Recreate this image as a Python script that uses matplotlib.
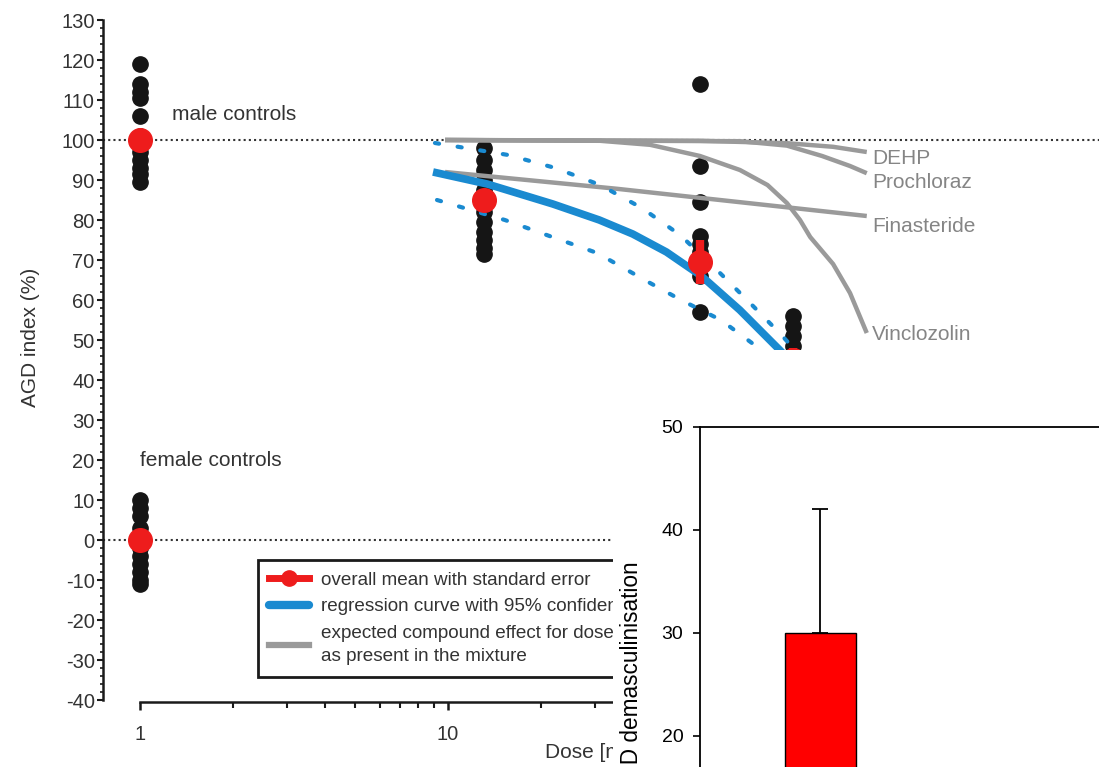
import matplotlib
matplotlib.use("Agg")
import matplotlib.pyplot as plt
from matplotlib.lines import Line2D
from matplotlib.patches import Rectangle
from matplotlib.ticker import MultipleLocator, FixedLocator, NullFormatter

plt.rcParams['font.family'] = ['Liberation Sans', 'DejaVu Sans']
plt.rcParams['axes.unicode_minus'] = False

# individual AGD index values (% of male control level)
control_dose = 1
male_controls = [119, 114, 112, 110.5, 106, 101, 97, 95, 93, 91.5, 89.5]
female_controls = [10, 8, 6, 3, 1, -2, -4, -6, -8, -10, -11]
mix_doses = [13.1, 65.9, 131.8]
mix_values = [
    [98, 95, 92.5, 90, 87.5, 85, 82, 79.5, 77, 75, 73, 71.5],
    [114, 93.5, 84.5, 76, 74, 72, 66, 57],
    [56, 53.5, 51, 48.5, 45, 42, 39, 36],
]

# group means with standard error
mean_doses = [1, 1, 13.1, 65.9, 131.8]
mean_values = [100, 0, 85, 69.5, 45]
mean_sem = [1.5, 1.5, 2.5, 5.5, 3]

# regression curve and 95% confidence belt
reg_dose = [8.94, 13.4, 21.9, 31.0, 39.8, 51.2, 66.5, 88.6, 119.4, 161]
reg_fit = [92, 89, 84, 80, 76.5, 72, 66, 57.5, 47.5, 37]
upper_dose = [9.07, 15.7, 22.3, 31.2, 42.6, 56.7, 74.7, 95.7, 121, 155]
upper_ci = [99.25, 96.25, 93, 88.75, 83, 76.25, 67.5, 59.25, 51.25, 42]
lower_dose = [9.21, 15.3, 21.8, 30.5, 45.3, 57.1, 76.9, 101, 129]
lower_ci = [85, 80, 75.75, 71.75, 64.25, 60, 55, 48.25, 40]

# expected effect of each compound at the dose present in the mixture
compounds = ['DEHP', 'Prochloraz', 'Finasteride', 'Vinclozolin']
compound_dose = {
    'DEHP': [9.78, 65.8, 126, 178, 229],
    'Prochloraz': [9.78, 88.7, 126, 164, 202, 229],
    'Finasteride': [9.78, 35.4, 229],
    'Vinclozolin': [9.78, 31.2, 45.3, 65.8, 88.7, 109, 126, 139, 150, 178, 202, 229],
}
compound_effect = {
    'DEHP': [100, 99.8, 99.2, 98.3, 97],
    'Prochloraz': [100, 99.7, 98.6, 96, 93.5, 91.7],
    'Finasteride': [92, 87.8, 81],
    'Vinclozolin': [100, 99.8, 98.8, 96, 92.5, 88.75, 84.25, 80, 75.75, 69, 61.75, 51.75],
}
label_y = {'DEHP': 95.5, 'Prochloraz': 89.25, 'Finasteride': 78.25, 'Vinclozolin': 51.25}

# inset bar chart
bar_names = ['mixture']
bar_values = [30]
bar_errors = [12]

W, H = 1099, 767
fig = plt.figure(figsize=(W / 100, H / 100), dpi=100)

red = '#ee1c1c'
blue = '#1a8ad0'
grey = '#9a9a9a'
txt = '#333333'

ax = fig.add_axes([103 / W, 1 - 702.4 / H, (W - 103) / W, (702.4 - 20) / H])
ax.set_xscale('log')
ax.set_xlim(0.758, 1300)
ax.set_ylim(-40.6, 130)

ax.axhline(100, color='#333333', ls=(0, (1, 1.5)), lw=1.5, zorder=1)
ax.axhline(0, color='#333333', ls=(0, (1, 1.5)), lw=1.5, zorder=1)

dot_kw = dict(ls='none', marker='o', ms=11, color='#151515', zorder=2, clip_on=False)
ax.plot([control_dose] * len(male_controls), male_controls, **dot_kw)
ax.plot([control_dose] * len(female_controls), female_controls, **dot_kw)
for d, vals in zip(mix_doses, mix_values):
    ax.plot([d] * len(vals), vals, **dot_kw)

for name in compounds:
    ax.plot(compound_dose[name], compound_effect[name], color=grey, lw=3.2,
            solid_capstyle='butt', solid_joinstyle='round', zorder=3)
    ax.text(238, label_y[name], name, color='#858585', fontsize=15,
            ha='left', va='center')

ax.plot(reg_dose, reg_fit, color=blue, lw=5.5, solid_capstyle='butt', zorder=3)
ax.plot(upper_dose, upper_ci, color=blue, lw=3, ls=(0, (1, 4.5)),
        dash_capstyle='round', zorder=3)
ax.plot(lower_dose, lower_ci, color=blue, lw=3, ls=(0, (1, 4.5)),
        dash_capstyle='round', zorder=3)

ax.errorbar(mean_doses, mean_values, yerr=mean_sem, fmt='o', color=red,
            ms=17, elinewidth=6, capsize=0, zorder=4)

ax.text(1.27, 106.25, 'male controls', color=txt, fontsize=15, va='center')
ax.text(1.0, 20, 'female controls', color=txt, fontsize=15, va='center')

for s in ['top', 'right']:
    ax.spines[s].set_visible(False)
ax.spines['left'].set_bounds(-40, 130)
ax.spines['bottom'].set_bounds(1, 1300)
for s in ['left', 'bottom']:
    ax.spines[s].set_linewidth(1.8)
    ax.spines[s].set_color('#1a1a1a')

ax.yaxis.set_major_locator(MultipleLocator(10))
ax.yaxis.set_minor_locator(MultipleLocator(2))
ax.xaxis.set_major_locator(FixedLocator([1, 10, 100]))
ax.xaxis.set_minor_locator(FixedLocator([2, 3, 4, 5, 6, 7, 8, 9, 20, 30, 40, 50, 60, 70, 80, 90]))
ax.xaxis.set_minor_formatter(NullFormatter())
ax.set_xticklabels(['1', '10', '100'])
ax.tick_params(axis='y', which='major', length=4, width=1.5, pad=2,
               labelsize=14.5, labelcolor=txt, color='#1a1a1a')
ax.tick_params(axis='y', which='minor', length=2, width=1.2, color='#1a1a1a')
ax.tick_params(axis='x', which='major', length=6, width=1.8, pad=10.5,
               labelsize=14.5, labelcolor=txt, color='#1a1a1a')
ax.tick_params(axis='x', which='minor', length=4, width=1.5, color='#1a1a1a')

handles = [
    Line2D([], [], color=red, lw=5, marker='o', ms=11),
    Line2D([], [], color=blue, lw=6, solid_capstyle='round'),
    Line2D([], [], color=grey, lw=4.5),
]
labels = ['overall mean with standard error',
          'regression curve with 95% confidence belt',
          'expected compound effect for dose\nas present in the mixture']
leg = ax.legend(handles, labels, loc='upper left', bbox_to_anchor=(258 / W, 1 - 560 / H),
                bbox_transform=fig.transFigure, borderaxespad=0, fontsize=13.6,
                frameon=True, fancybox=False, framealpha=1, edgecolor='#1a1a1a',
                handlelength=2.1, handletextpad=0.65, labelspacing=0.5, borderpad=0.6)
leg.get_frame().set_linewidth(2)
for t in leg.get_texts():
    t.set_color(txt)
    t.set_linespacing(1.5)

fig.text(30 / W, 1 - 337 / H, 'AGD index (%)', rotation=90, color=txt,
         fontsize=15, ha='center', va='center')
fig.text(545 / W, 1 - 753 / H, 'Dose [mg/kg bw/day]', color=txt,
         fontsize=15, ha='left', va='center')

# white panel of the overlaid bar chart
fig.add_artist(Rectangle((613 / W, 0), 1, 1 - 350 / H, transform=fig.transFigure,
                         facecolor='white', edgecolor='none', zorder=5))

ax2 = fig.add_axes([700 / W, 1 - 942 / H, 550 / W, 515 / H], zorder=10)
ax2.patch.set_alpha(0)
ax2.set_ylim(0, 50)
ax2.set_xlim(-1.018, 3.63)
ax2.bar(range(len(bar_names)), bar_values, width=0.6, color='#ff0000',
        edgecolor='black', linewidth=1)
ax2.errorbar(range(len(bar_names)), bar_values, yerr=[[0] * len(bar_errors), bar_errors],
             fmt='none', ecolor='black', elinewidth=1.3, capsize=5.5, capthick=1.3)
ax2.set_xticks([])
ax2.yaxis.set_major_locator(MultipleLocator(10))
ax2.tick_params(axis='y', length=5, width=1.2, pad=7, labelsize=14)
for s in ['left', 'top']:
    ax2.spines[s].set_linewidth(1.3)
ax2.set_ylabel('% AGD demasculinisation', fontsize=16.3)
ax2.yaxis.set_label_coords(-0.103, 0.487)

fig.savefig('out.png', dpi=100)
